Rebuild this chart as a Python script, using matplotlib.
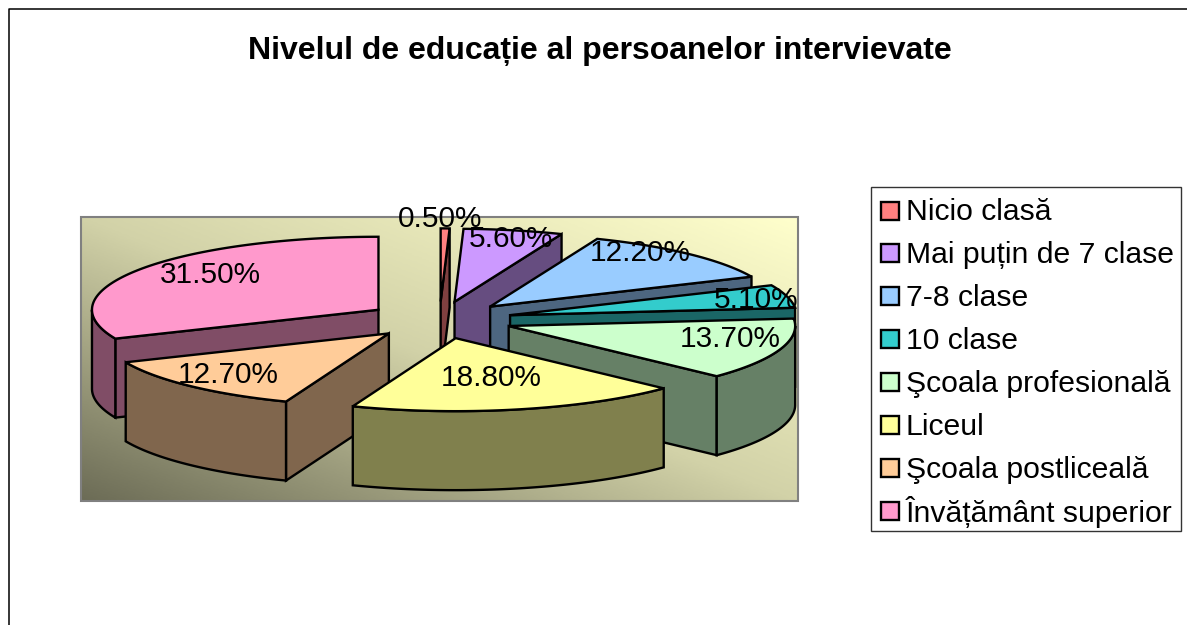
import numpy as np
import matplotlib
matplotlib.use("Agg")
import matplotlib.pyplot as plt
from matplotlib.patches import Polygon, Rectangle
from matplotlib.colors import LinearSegmentedColormap, to_rgb

categories = ["Nicio clasă", "Mai puțin de 7 clase", "7-8 clase", "10 clase",
              "Şcoala profesională", "Liceul", "Şcoala postliceală", "Învățământ superior"]
values = [0.5, 5.6, 12.2, 5.1, 13.7, 18.8, 12.7, 31.5]
colors = ["#FF8080", "#CC99FF", "#99CCFF", "#33CCCC", "#CCFFCC", "#FFFF99", "#FFCC99", "#FF99CC"]
title = "Nivelul de educație al persoanelor intervievate"

FONT = "Liberation Sans"
W, H = 1187, 625
CX, CY, RX, RY, DEPTH, EXPLODE = 439.5, 320, 286.5, 73, 79, 0.255
LW = 1.7

fig = plt.figure(figsize=(W / 100, H / 100), dpi=100)
ax = fig.add_axes([0, 0, 1, 1])
ax.set_xlim(0, W)
ax.set_ylim(H, 0)
ax.axis("off")

# page frame (left and top only)
ax.plot([8.8, 8.8, W], [H, 8.8, 8.8], color="black", lw=1.1, zorder=1)

# plot-area gradient
cmap = LinearSegmentedColormap.from_list("bg", ["#6C6C56", "#D2D2A8", "#FFFFCC"])
u, v = np.meshgrid(np.linspace(0, 1, 300), np.linspace(0, 1, 200))
ax.imshow((u + v) / 2, cmap=cmap, vmin=0, vmax=1, origin="lower",
          extent=(81, 798, 501, 217), aspect="auto", zorder=1, interpolation="bilinear")
ax.set_xlim(0, W)
ax.set_ylim(H, 0)
ax.add_patch(Rectangle((81, 217), 717, 284, fill=False, ec="#808080", lw=1.5, zorder=2))


def pt(c, theta):
    return c[0] + RX * np.sin(theta), c[1] - RY * np.cos(theta)


def poly(points, face, z):
    ax.add_patch(Polygon(points, closed=True, fc=face, ec="black", lw=LW, joinstyle="miter", zorder=z))


total = sum(values)
edges = np.radians(np.cumsum([0] + values) / total * 360)
mids = (edges[:-1] + edges[1:]) / 2
order = np.argsort(-np.cos(mids))

for rank, i in enumerate(order):
    a, b, m = edges[i], edges[i + 1], mids[i]
    c = (CX + EXPLODE * RX * np.sin(m), CY - EXPLODE * RY * np.cos(m))
    top = to_rgb(colors[i])
    side = tuple(x * 0.5 for x in top)
    z = 10 + rank
    pa, pb = pt(c, a), pt(c, b)
    # radial faces: visible when their outward normal faces the viewer
    if np.cos(a - np.pi / 2) < 0:
        poly([c, pa, (pa[0], pa[1] + DEPTH), (c[0], c[1] + DEPTH)], side, z)
    if np.cos(b + np.pi / 2) < 0:
        poly([c, pb, (pb[0], pb[1] + DEPTH), (c[0], c[1] + DEPTH)], side, z)
    # outer wall on the front half
    lo, hi = max(a, np.pi / 2), min(b, 3 * np.pi / 2)
    if hi > lo:
        t = np.linspace(lo, hi, 80)
        xs, ys = pt(c, t)
        poly(list(zip(xs, ys)) + list(zip(xs[::-1], ys[::-1] + DEPTH)), side, z)
    # top face
    t = np.linspace(a, b, 100)
    xs, ys = pt(c, t)
    poly([c] + list(zip(xs, ys)), top, z)

# data labels
label_xy = [(440, 219), (511, 239), (640, 253), (756, 300),
            (730, 339), (491, 378), (228, 375), (210, 275)]
for val, (x, y) in zip(values, label_xy):
    ax.text(x, y, f"{val:.2f}%", family=FONT, fontsize=21.4, ha="center", va="center",
            color="black", zorder=50)

ax.text(600, 51, title, family=FONT, fontsize=23, fontweight="bold", ha="center", va="center", zorder=50)

# legend
ax.add_patch(Rectangle((871, 187), 310, 344, fc="white", ec="#333333", lw=1.0, zorder=40))
ys = np.linspace(211, 511, len(categories))
for name, col, y in zip(categories, colors, ys):
    ax.add_patch(Rectangle((880.5, y - 9.5), 18, 18, fc=col, ec="black", lw=LW, zorder=41))
    ax.text(906, y + 1.5, name, family=FONT, fontsize=21.7, ha="left", va="center", zorder=50)

fig.savefig("out.png", dpi=100)
